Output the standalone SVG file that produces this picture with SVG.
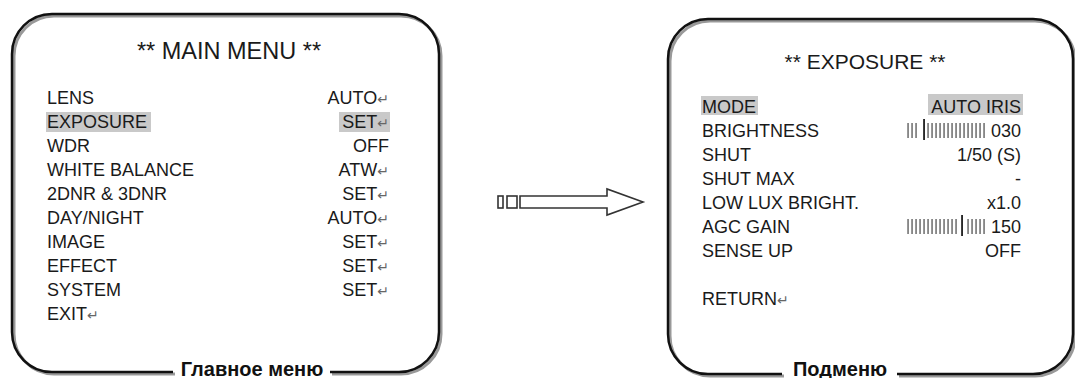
<svg xmlns="http://www.w3.org/2000/svg" width="1075" height="378" viewBox="0 0 1075 378">
<style>
.t{font-family:"Liberation Sans",Arial,sans-serif;font-size:18px;fill:#1a1a1a}
.e{text-anchor:end}
.h{font-size:23.5px;text-anchor:middle}
.h2{font-size:21px;text-anchor:middle}
.cap{font-family:"Liberation Sans",Arial,sans-serif;font-size:20px;font-weight:bold;fill:#111;text-anchor:middle}
.r{font-family:"DejaVu Sans",sans-serif;font-size:14px;fill:#666}
.frame{fill:none;stroke:#111;stroke-width:2.5}
.shadow{fill:none;stroke:#999;stroke-width:3}
.hl{fill:#c9c9c9}
.b{fill:#555}
.bt{fill:#111}
.arrow{fill:#fff;stroke:#333;stroke-width:1.6}
</style>
<rect width="1075" height="378" fill="#fff"/>
<g id="main-menu">
<path class="shadow" transform="translate(2,2)" d="M330 372 H399 A40 40 0 0 0 439 332 V54 A40 40 0 0 0 399 14 H52 A40 40 0 0 0 12 54 V332 A40 40 0 0 0 52 372 H173"/>
<path class="frame" d="M330 372 H399 A40 40 0 0 0 439 332 V54 A40 40 0 0 0 399 14 H52 A40 40 0 0 0 12 54 V332 A40 40 0 0 0 52 372 H173"/>
<text class="t h" x="229" y="59">** MAIN MENU **</text>
<rect class="hl" x="46" y="112" width="105" height="20"/>
<rect class="hl" x="339" y="112" width="51" height="20"/>
<text class="t" x="47" y="104">LENS</text>
<text class="t" x="47" y="128">EXPOSURE</text>
<text class="t" x="47" y="152">WDR</text>
<text class="t" x="47" y="176">WHITE BALANCE</text>
<text class="t" x="47" y="200">2DNR &amp; 3DNR</text>
<text class="t" x="47" y="224">DAY/NIGHT</text>
<text class="t" x="47" y="248">IMAGE</text>
<text class="t" x="47" y="272">EFFECT</text>
<text class="t" x="47" y="296">SYSTEM</text>
<text class="t" x="47" y="320">EXIT<tspan class="r">↵</tspan></text>
<text class="t e" x="389" y="104">AUTO<tspan class="r">↵</tspan></text>
<text class="t e" x="389" y="128">SET<tspan class="r">↵</tspan></text>
<text class="t e" x="389" y="152">OFF</text>
<text class="t e" x="389" y="176">ATW<tspan class="r">↵</tspan></text>
<text class="t e" x="389" y="200">SET<tspan class="r">↵</tspan></text>
<text class="t e" x="389" y="224">AUTO<tspan class="r">↵</tspan></text>
<text class="t e" x="389" y="248">SET<tspan class="r">↵</tspan></text>
<text class="t e" x="389" y="272">SET<tspan class="r">↵</tspan></text>
<text class="t e" x="389" y="296">SET<tspan class="r">↵</tspan></text>
<text class="cap" x="252" y="376">Главное меню</text>
</g>
<g id="connectors">
<rect class="arrow" x="498" y="196" width="5" height="12"/>
<rect class="arrow" x="507" y="196" width="10" height="12"/>
<polygon class="arrow" points="520,196 607,196 607,189 643,202 607,215 607,208 520,208"/>
</g>
<g id="exposure-menu">
<path class="shadow" transform="translate(2,2)" d="M897 374 H1033 A40 40 0 0 0 1073 334 V59 A40 40 0 0 0 1033 19 H708 A40 40 0 0 0 668 59 V334 A40 40 0 0 0 708 374 H782"/>
<path class="frame" d="M897 374 H1033 A40 40 0 0 0 1073 334 V59 A40 40 0 0 0 1033 19 H708 A40 40 0 0 0 668 59 V334 A40 40 0 0 0 708 374 H782"/>
<text class="t h2" x="865" y="69">** EXPOSURE **</text>
<rect class="hl" x="701" y="96" width="57" height="19"/>
<rect class="hl" x="928" y="94" width="95" height="21"/>
<text class="t" x="702" y="113">MODE</text>
<text class="t" x="702" y="137">BRIGHTNESS</text>
<text class="t" x="702" y="161">SHUT</text>
<text class="t" x="702" y="185">SHUT MAX</text>
<text class="t" x="702" y="209">LOW LUX BRIGHT.</text>
<text class="t" x="702" y="233">AGC GAIN</text>
<text class="t" x="702" y="257">SENSE UP</text>
<text class="t" x="702" y="305">RETURN<tspan class="r">↵</tspan></text>
<text class="t e" x="1021" y="113">AUTO IRIS</text>
<text class="t e" x="1021" y="137">030</text>
<text class="t e" x="1021" y="161">1/50 (S)</text>
<text class="t e" x="1021" y="185">-</text>
<text class="t e" x="1021" y="209">x1.0</text>
<text class="t e" x="1021" y="233">150</text>
<text class="t e" x="1021" y="257">OFF</text>
<g id="brightness-bar">
<rect class="b" x="907.4" y="123" width="1.3" height="15"/>
<rect class="b" x="911.4" y="123" width="1.3" height="15"/>
<rect class="b" x="915.4" y="123" width="1.3" height="15"/>
<rect class="bt" x="923.2" y="119" width="1.7" height="21"/>
<rect class="b" x="927.4" y="123" width="1.3" height="15"/>
<rect class="b" x="931.4" y="123" width="1.3" height="15"/>
<rect class="b" x="935.4" y="123" width="1.3" height="15"/>
<rect class="b" x="939.4" y="123" width="1.3" height="15"/>
<rect class="b" x="943.4" y="123" width="1.3" height="15"/>
<rect class="b" x="947.4" y="123" width="1.3" height="15"/>
<rect class="b" x="951.4" y="123" width="1.3" height="15"/>
<rect class="b" x="955.4" y="123" width="1.3" height="15"/>
<rect class="b" x="959.4" y="123" width="1.3" height="15"/>
<rect class="b" x="963.4" y="123" width="1.3" height="15"/>
<rect class="b" x="967.4" y="123" width="1.3" height="15"/>
<rect class="b" x="971.4" y="123" width="1.3" height="15"/>
<rect class="b" x="975.4" y="123" width="1.3" height="15"/>
<rect class="b" x="979.4" y="123" width="1.3" height="15"/>
<rect class="b" x="983.4" y="123" width="1.3" height="15"/>
</g>
<g id="agc-bar">
<rect class="b" x="907.4" y="219" width="1.3" height="15"/>
<rect class="b" x="911.4" y="219" width="1.3" height="15"/>
<rect class="b" x="915.4" y="219" width="1.3" height="15"/>
<rect class="b" x="919.4" y="219" width="1.3" height="15"/>
<rect class="b" x="923.4" y="219" width="1.3" height="15"/>
<rect class="b" x="927.4" y="219" width="1.3" height="15"/>
<rect class="b" x="931.4" y="219" width="1.3" height="15"/>
<rect class="b" x="935.4" y="219" width="1.3" height="15"/>
<rect class="b" x="939.4" y="219" width="1.3" height="15"/>
<rect class="b" x="943.4" y="219" width="1.3" height="15"/>
<rect class="b" x="947.4" y="219" width="1.3" height="15"/>
<rect class="b" x="951.4" y="219" width="1.3" height="15"/>
<rect class="b" x="955.4" y="219" width="1.3" height="15"/>
<rect class="bt" x="961.2" y="215" width="1.7" height="21"/>
<rect class="b" x="967.4" y="219" width="1.3" height="15"/>
<rect class="b" x="971.4" y="219" width="1.3" height="15"/>
<rect class="b" x="975.4" y="219" width="1.3" height="15"/>
<rect class="b" x="979.4" y="219" width="1.3" height="15"/>
<rect class="b" x="983.4" y="219" width="1.3" height="15"/>
</g>
<text class="cap" x="840" y="376">Подменю</text>
</g>
</svg>
